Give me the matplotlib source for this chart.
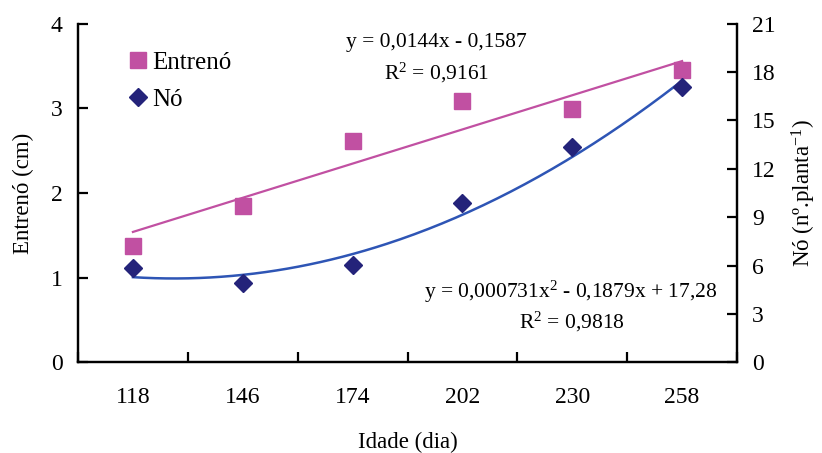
import numpy as np
import matplotlib
matplotlib.use("Agg")
from matplotlib import pyplot as plt

# data
idade = [118, 146, 174, 202, 230, 258]
entreno = [1.38, 1.85, 2.61, 3.08, 2.99, 3.45]
no = [5.84, 4.95, 6.05, 9.90, 13.35, 17.05]

# fitted trend lines given on the chart
lin_coef = [0.0144, -0.1587]
poly_coef = [0.000731, -0.1879, 17.28]

plt.rcParams['font.family'] = ['Liberation Serif', 'DejaVu Serif']
plt.rcParams['mathtext.fontset'] = 'custom'
plt.rcParams['mathtext.rm'] = 'Liberation Serif'
plt.rcParams['mathtext.default'] = 'regular'

pink = '#C150A2'
navy = '#24237A'
blue = '#2E55B5'

W, H = 822, 453
fig = plt.figure(figsize=(W / 100, H / 100), dpi=100)
ax = fig.add_axes([0.0949, 0.1998, 0.8017, 0.7483])
ax2 = ax.twinx()

pos = np.arange(len(idade))
days = np.linspace(idade[0], idade[-1], 200)
dpos = (days - idade[0]) / (idade[1] - idade[0])

ax.plot(dpos, np.polyval(lin_coef, days), color=pink, lw=1.6, zorder=2)
ax.plot(pos, entreno, 's', color=pink, ms=11, label='Entrenó', zorder=3)
ax2.plot(dpos, np.polyval(poly_coef, days), color=blue, lw=1.8, zorder=2)
ax2.plot(pos, no, 'D', color=navy, ms=9, label='Nó', zorder=3)

ax.set_xlim(-0.5, len(idade) - 0.5)
ax.set_ylim(0, 4)
ax2.set_ylim(0, 21)
ax.set_yticks([0, 1, 2, 3, 4])
ax2.set_yticks(range(0, 22, 3))
ax.set_xticks(np.arange(len(idade) + 1) - 0.5)
ax.set_xticklabels([])
ax.set_xticks(pos, minor=True)
ax.set_xticklabels([str(d) for d in idade], minor=True)
ax.tick_params(axis='x', which='minor', length=0, pad=18, labelsize=17)
ax.tick_params(axis='x', which='major', direction='in', length=7, width=1.6)
ax.tick_params(axis='y', direction='in', length=7, width=1.6, labelsize=17, pad=11)
ax2.tick_params(axis='y', direction='in', length=7, width=1.6, labelsize=17, pad=11)

for a in (ax, ax2):
    a.spines['top'].set_visible(False)
    for s in ('left', 'right', 'bottom'):
        a.spines[s].set_linewidth(1.6)

ax.set_xlabel('Idade (dia)', fontsize=16.5, labelpad=17)
ax.set_ylabel('Entrenó (cm)', fontsize=16.5, labelpad=12)
ax2.set_ylabel('Nó (nº.planta$^{-1}$)', fontsize=16.5, labelpad=10)

h1, l1 = ax.get_legend_handles_labels()
h2, l2 = ax2.get_legend_handles_labels()
ax.legend(h1 + h2, l1 + l2, loc='upper left', bbox_to_anchor=(0.045, 0.985),
          frameon=False, fontsize=18, handlelength=0.6, handletextpad=0.3,
          labelspacing=0.6)


def px_text(x, y, s):
    fig.text(x / W, 1 - y / H, s, fontsize=15.5, ha='center', va='center')


px_text(436, 43, 'y = 0,0144x - 0,1587')
px_text(437, 73, 'R$^2$ = 0,9161')
px_text(571, 292, 'y = 0,000731x$^2$ - 0,1879x + 17,28')
px_text(572, 322, 'R$^2$ = 0,9818')

fig.savefig('out.png', dpi=100)
